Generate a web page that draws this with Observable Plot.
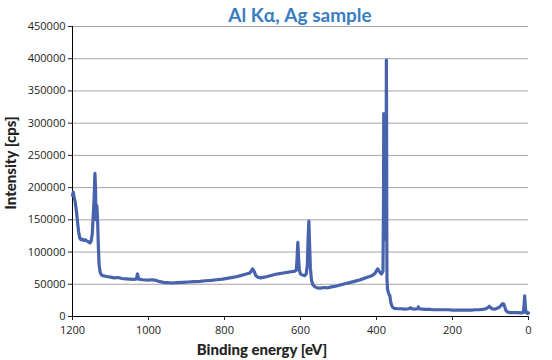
<!DOCTYPE html>
<html>
<head>
<meta charset="utf-8">
<script src="https://cdn.jsdelivr.net/npm/d3@7"></script>
<script src="https://cdn.jsdelivr.net/npm/@observablehq/plot@0.6"></script>
<style>
  html, body { margin: 0; padding: 0; background: #fff; }
  #wrap { position: relative; width: 552px; height: 360px; overflow: hidden; }
  #title { position: absolute; left: 0; width: 600px; top: 3px; text-align: center;
           font-family: Lato, "Open Sans", sans-serif; font-weight: bold; font-size: 19px; color: #3a7dc1; }
  #xlabel { position: absolute; left: 0; width: 524px; top: 340px; text-align: center;
            font-family: Lato, sans-serif; font-weight: 900; font-size: 15px; color: #222; }
  #ylabel { position: absolute; left: 10px; top: 163px; transform: translate(-50%, -50%) rotate(-90deg);
            white-space: nowrap; font-family: Lato, sans-serif; font-weight: 900; font-size: 15px; color: #222; }
</style>
</head>
<body>
<div id="wrap">
  <div id="chart"></div>
  <div id="title">Al Kα, Ag sample</div>
  <div id="xlabel">Binding energy [eV]</div>
  <div id="ylabel">Intensity [cps]</div>
</div>
<script>
const energy = [
  1200, 1198, 1196, 1193, 1190, 1187, 1184, 1181, 1178, 1174, 1170, 1166, 1162, 1158, 1154, 1151,
  1148, 1146, 1143, 1141, 1139.5, 1138, 1136, 1134, 1132, 1130, 1127, 1123, 1118, 1110, 1100, 1090,
  1080, 1070, 1060, 1050, 1040, 1032, 1029, 1026, 1015, 1000, 990, 980, 970, 960, 950, 940,
  925, 910, 895, 880, 865, 850, 835, 820, 805, 790, 775, 760, 745, 735, 730, 726,
  722, 718, 713, 705, 695, 685, 675, 665, 655, 645, 635, 625, 615, 611, 609, 607,
  605, 603, 600, 597, 593, 589, 585, 582, 580, 578, 576, 574, 571, 567, 562, 556,
  548, 538, 528, 518, 508, 498, 488, 478, 468, 458, 448, 438, 428, 418, 410, 404,
  400, 397, 394, 390, 387, 383, 381.5, 381, 380, 379, 377.5, 376, 375, 374, 373.5, 373, 372.5, 371,
  369, 367, 365, 363, 360, 357, 353, 345, 335, 325, 315, 310, 307, 300, 292, 290,
  288, 280, 270, 260, 250, 240, 230, 220, 210, 200, 190, 180, 170, 160, 150, 140,
  130, 120, 112, 106, 103, 100, 96, 90, 84, 78, 73, 68, 65, 62, 59, 55,
  50, 40, 30, 20, 14, 12, 10, 8, 6, 3, 1, 0
];
const intensity = [
  188000, 193000, 186000, 178000, 165000, 148000, 132000, 122000, 119000, 120000, 118000, 119000, 117000, 116000, 114000, 117000,
  128000, 150000, 185000, 222000, 200000, 150000, 172000, 150000, 110000, 80000, 68000, 64000, 63000, 62000, 61000, 60000,
  60500, 59000, 58500, 58000, 57500, 58000, 66000, 58000, 57000, 56500, 57000, 56000, 54000, 53000, 52500, 52000,
  52500, 53000, 53500, 54000, 54500, 55500, 56000, 57000, 58000, 59500, 61000, 63000, 65500, 67000, 70000, 74000,
  70000, 64000, 61000, 60000, 61000, 62500, 64000, 65500, 66500, 67500, 68500, 69500, 70500, 72000, 90000, 115000,
  90000, 72000, 66000, 65000, 64000, 63500, 66000, 80000, 120000, 148000, 110000, 75000, 56000, 49000, 46000, 44500,
  44000, 45000, 44500, 46000, 47000, 48500, 50000, 51500, 53000, 54500, 56000, 58000, 60000, 62000, 64000, 67000,
  71000, 74000, 71000, 68000, 66000, 70000, 180000, 315000, 120000, 305000, 140000, 300000, 120000, 398000, 300000, 150000, 60000, 42000,
  38000, 34000, 33000, 24000, 17000, 14000, 12500, 12000, 12000, 11500, 12000, 13500, 12000, 11500, 12000, 15000,
  12000, 11500, 11000, 11000, 10500, 10500, 10500, 10500, 10500, 10000, 10000, 10000, 10000, 10000, 10000, 10500,
  10500, 11000, 12000, 14000, 16000, 14000, 12000, 11500, 12500, 14000, 16500, 20000, 19000, 14000, 9000, 7000,
  6000, 6000, 6000, 5500, 6000, 15000, 32000, 12000, 6000, 5000, 6000, 5500
];
const xTicks = [1200, 1000, 800, 600, 400, 200, 0];
const yTicks = [0, 50000, 100000, 150000, 200000, 250000, 300000, 350000, 400000, 450000];

const data = energy.map((e, i) => ({e, v: intensity[i]}));

const chart = Plot.plot({
  width: 552,
  height: 360,
  marginLeft: 72,
  marginRight: 24,
  marginTop: 26,
  marginBottom: 44,
  style: {fontFamily: "'Open Sans', sans-serif", fontSize: "11px", color: "#222", background: "#fff"},
  x: {domain: [1200, 0]},
  y: {domain: [0, 450000]},
  marks: [
    Plot.gridY(yTicks, {stroke: "#a6a6a6", strokeOpacity: 1}),
    Plot.axisY({ticks: yTicks, tickSize: 4, tickPadding: 3, tickFormat: d => String(d), label: null}),
    Plot.axisX({ticks: xTicks, tickSize: 4, tickPadding: 6, tickFormat: d => String(d), label: null}),
    Plot.ruleX([1200], {stroke: "#000"}),
    Plot.ruleY([0], {stroke: "#000"}),
    Plot.line(data, {x: "e", y: "v", stroke: "#4863ad", strokeWidth: 3.2, strokeLinejoin: "round"})
  ]
});
document.getElementById("chart").appendChild(chart);
</script>
</body>
</html>
